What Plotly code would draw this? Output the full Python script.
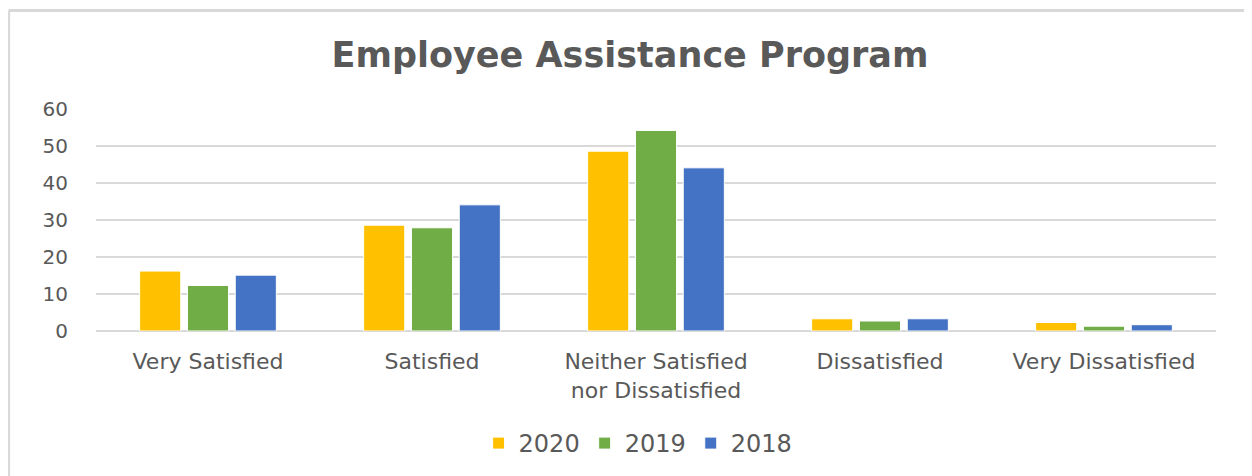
import plotly.graph_objects as go

categories = ["Very Satisfied", "Satisfied", "Neither Satisfied<br>nor Dissatisfied", "Dissatisfied", "Very Dissatisfied"]
series_names = ["2020", "2019", "2018"]
values_2020 = [16.2, 28.6, 48.6, 3.3, 2.3]
values_2019 = [12.3, 27.9, 54.2, 2.7, 1.3]
values_2018 = [15.1, 34.1, 44.1, 3.3, 1.7]
colors = ["#FFC000", "#70AD47", "#4472C4"]
y_ticks = [0, 10, 20, 30, 40, 50, 60]

fig = go.Figure()
for name, vals, col in zip(series_names, [values_2020, values_2019, values_2018], colors):
    fig.add_trace(go.Bar(x=categories, y=vals, name=name, marker=dict(color=col, line=dict(color="white", width=1))))

txt = "#595959"
fig.update_layout(
    width=1244, height=468,
    paper_bgcolor="white", plot_bgcolor="white",
    margin=dict(l=88, r=36, t=101, b=144),
    barmode="group", bargap=0.36, bargroupgap=0.14,
    title=dict(text="<b>Employee Assistance Program</b>", x=0.5, xanchor="center", y=0.9, yanchor="middle",
               font=dict(family="DejaVu Sans", size=35, color=txt)),
    font=dict(family="DejaVu Sans", size=21, color=txt),
    legend=dict(orientation="h", x=0.484, xanchor="center", y=-0.5, yanchor="middle",
                font=dict(size=24, color=txt), itemwidth=30, traceorder="normal"),
    showlegend=True,
)
fig.update_xaxes(showgrid=False, showline=False, ticks="", tickfont=dict(size=22, color=txt),
                 ticklabelstandoff=15)
fig.update_yaxes(range=[0, 60], tickvals=y_ticks, showgrid=True, gridcolor="#D9D9D9", gridwidth=2,
                 zeroline=True, zerolinecolor="#D9D9D9", zerolinewidth=2, showline=False,
                 tickfont=dict(size=20, color=txt), ticklabelstandoff=27)

# chart border (top and left edges visible)
fig.add_shape(type="line", xref="paper", yref="paper", x0=-0.078, x1=1.1, y0=1.444, y1=1.444,
              line=dict(color="#D9D9D9", width=3))
fig.add_shape(type="line", xref="paper", yref="paper", x0=-0.078, x1=-0.078, y0=1.444, y1=-1.0,
              line=dict(color="#D9D9D9", width=3))

fig.write_html("out.html")
